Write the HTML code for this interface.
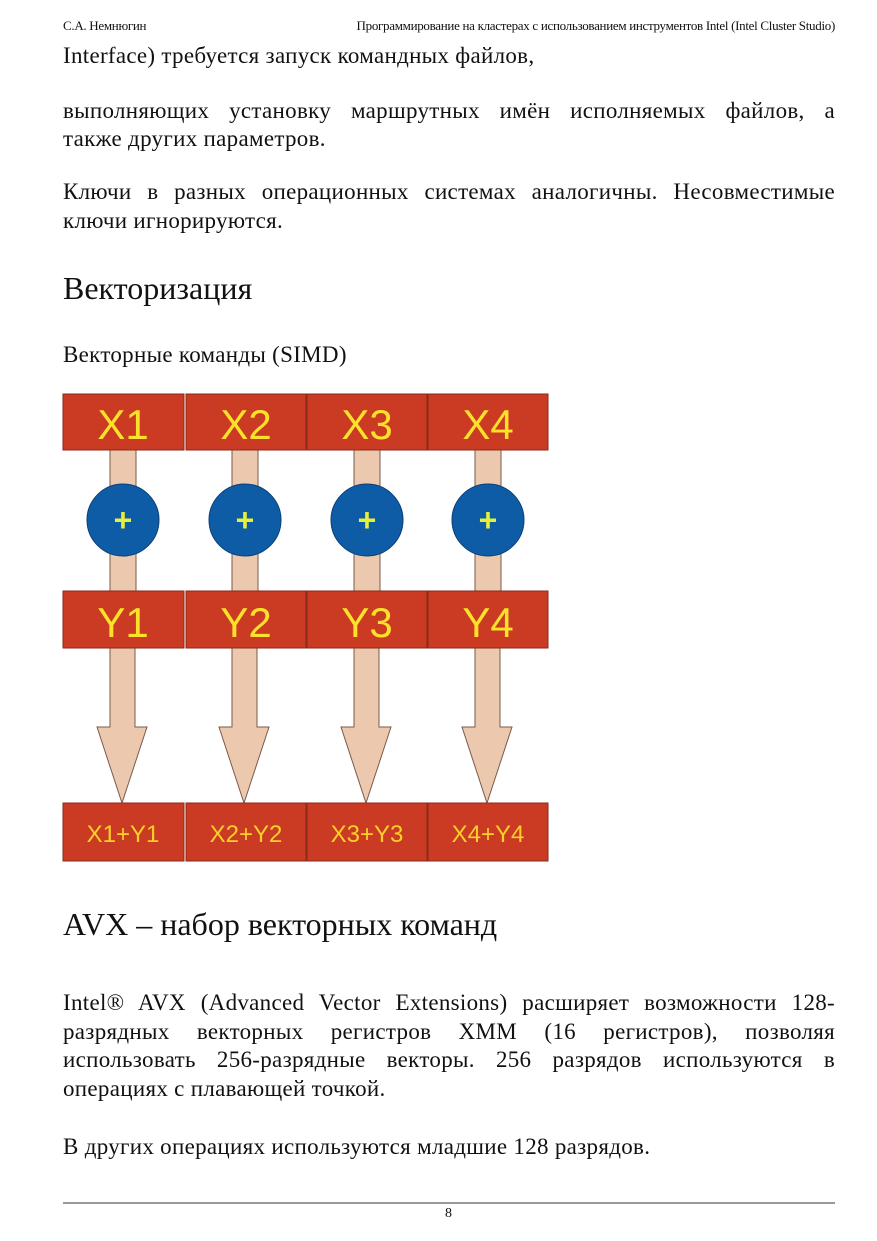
<!DOCTYPE html>
<html><head><meta charset="utf-8"><style>
body{margin:0;background:#fff;width:877px;height:1241px;position:relative;overflow:hidden;font-family:"Liberation Serif",serif;color:#111}
.t{position:absolute;left:63px;width:772px;font-size:23px;line-height:29px;letter-spacing:0.3px;word-spacing:0px;white-space:nowrap}
.f{text-align:justify;text-align-last:justify}
.h{position:absolute;left:63px;font-size:32px;letter-spacing:0px;white-space:nowrap}
.hd{position:absolute;top:18px;font-size:13px;letter-spacing:-0.3px;white-space:nowrap}
</style></head><body>
<div class="hd" style="left:63px">С.А. Немнюгин</div>
<div class="hd" style="right:42px">Программирование на кластерах с использованием инструментов Intel (Intel Cluster Studio)</div>
<div class="t" style="top:41px">Interface) требуется запуск командных файлов,</div>
<div class="t f" style="top:96px">выполняющих установку маршрутных имён исполняемых файлов, а</div>
<div class="t" style="top:124px">также других параметров.</div>
<div class="t f" style="top:177px">Ключи в разных операционных системах аналогичны. Несовместимые</div>
<div class="t" style="top:206px">ключи игнорируются.</div>
<div class="h" style="top:270px">Векторизация</div>
<div class="t" style="top:340px">Векторные команды (SIMD)</div>
<svg style="position:absolute;left:0;top:0" width="877" height="1241">
<g stroke="#7a5a4a" stroke-width="1" fill="#ecc9ae">
<rect x="110" y="450" width="26" height="141"/><rect x="232" y="450" width="26" height="141"/><rect x="354" y="450" width="26" height="141"/><rect x="475" y="450" width="26" height="141"/>
<path d="M110 648V727H97L122 803L147 727H135V648Z"/>
<path d="M232 648V727H219L244 803L269 727H257V648Z"/>
<path d="M354 648V727H341L366 803L391 727H379V648Z"/>
<path d="M475 648V727H462L487 803L512 727H500V648Z"/>
</g>
<g fill="#0f5ca6" stroke="#0b3f78" stroke-width="1">
<circle cx="123" cy="520" r="36"/><circle cx="245" cy="520" r="36"/><circle cx="367" cy="520" r="36"/><circle cx="488" cy="520" r="36"/>
</g>
<g fill="#cb3a22" stroke="#8a2a1a" stroke-width="1">
<rect x="63" y="394" width="121" height="56"/><rect x="186" y="394" width="120" height="56"/><rect x="307" y="394" width="120" height="56"/><rect x="428" y="394" width="120" height="56"/>
<rect x="63" y="591" width="121" height="57"/><rect x="186" y="591" width="120" height="57"/><rect x="307" y="591" width="120" height="57"/><rect x="428" y="591" width="120" height="57"/>
<rect x="63" y="803" width="121" height="58"/><rect x="186" y="803" width="120" height="58"/><rect x="307" y="803" width="120" height="58"/><rect x="428" y="803" width="120" height="58"/>
</g>
<g font-family="Liberation Sans,sans-serif" fill="#fbe22a" text-anchor="middle" font-size="42">
<text x="123" y="439">X1</text><text x="246" y="439">X2</text><text x="367" y="439">X3</text><text x="488" y="439">X4</text>
<text x="123" y="637">Y1</text><text x="246" y="637">Y2</text><text x="367" y="637">Y3</text><text x="488" y="637">Y4</text>
</g>
<g font-family="Liberation Sans,sans-serif" fill="#fbd02a" text-anchor="middle" font-size="24">
<text x="123" y="842">X1+Y1</text><text x="246" y="842">X2+Y2</text><text x="367" y="842">X3+Y3</text><text x="488" y="842">X4+Y4</text>
</g>
<g font-family="Liberation Sans,sans-serif" fill="#e6f03a" text-anchor="middle" font-size="32" font-weight="bold">
<text x="123" y="531">+</text><text x="245" y="531">+</text><text x="367" y="531">+</text><text x="488" y="531">+</text>
</g>
<line x1="63" y1="1203" x2="835" y2="1203" stroke="#333" stroke-width="1"/>
</svg>
<div class="h" style="top:906px">AVX – набор векторных команд</div>
<div class="t f" style="top:988px">Intel® AVX (Advanced Vector Extensions) расширяет возможности 128-</div>
<div class="t f" style="top:1017px">разрядных векторных регистров XMM (16 регистров), позволяя</div>
<div class="t f" style="top:1045px">использовать 256-разрядные векторы. 256 разрядов используются в</div>
<div class="t" style="top:1074px">операциях с плавающей точкой.</div>
<div class="t" style="top:1132px">В других операциях используются младшие 128 разрядов.</div>
<div style="position:absolute;top:1206px;left:0;width:897px;text-align:center;font-size:14px">8</div>
</body></html>
